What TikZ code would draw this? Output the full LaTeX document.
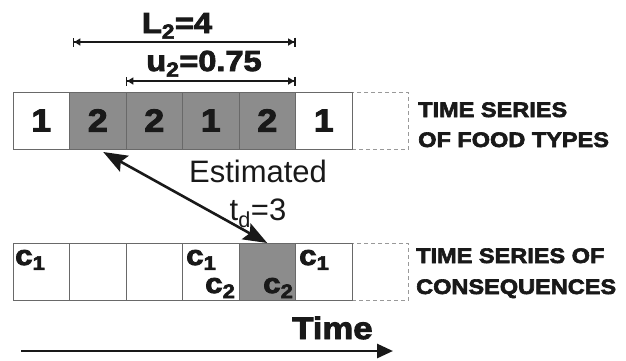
\documentclass[tikz,border=0pt]{standalone}
\usepackage{fontspec}
\setmainfont{Liberation Sans}
\newfontfamily\heavy{Liberation Sans Bold}[FakeBold=3,FakeStretch=1.12]
\usetikzlibrary{arrows.meta,calc}

\definecolor{cellfill}{RGB}{140,140,140}
\definecolor{cellline}{RGB}{105,105,105}
\definecolor{ink}{RGB}{25,25,25}

\begin{document}
\begin{tikzpicture}[x=1pt,y=-1pt,
  cell/.style={draw=cellline, line width=0.9pt, minimum width=56.5pt,
    minimum height=57pt, inner sep=0pt, outer sep=0pt, text=ink},
  shaded/.style={cell, fill=cellfill},
  opencell/.style={draw=gray!80, line width=0.9pt, dash pattern=on 4pt off 3pt,
    minimum width=56.5pt, minimum height=57pt, inner sep=0pt, outer sep=0pt},
  digit/.style={font=\heavy\fontsize{32}{32}\selectfont},
  clabel/.style={font=\heavy\fontsize{28}{28}\selectfont, text=ink, inner sep=0pt, anchor=base west},
  sidelabel/.style={font=\heavy\fontsize{21}{21}\selectfont, text=ink, inner sep=0pt, anchor=base west},
  dimtext/.style={font=\heavy\fontsize{29}{29}\selectfont, text=ink, inner sep=0pt, anchor=base},
  plain/.style={font=\fontsize{31}{31}\selectfont, text=ink, inner sep=0pt, anchor=base},
  dimline/.style={draw=ink, line width=1.3pt,
    {Bar[width=9pt,line width=1.3pt]Triangle[length=6pt,width=7pt]}-{Triangle[length=6pt,width=7pt]Bar[width=9pt,line width=1.3pt]}},
  delay/.style={draw=ink, line width=2.6pt,
    {Stealth[length=24pt,width=18pt,inset=4pt]}-{Stealth[length=24pt,width=18pt,inset=4pt]}},
]
\useasboundingbox (0,0) rectangle (626,360);

% row of food types
\node[opencell] (f7) at (380.25,120.5) {};
\node[cell,digit]   (f1) at (41.25,120.5)  {1};
\node[shaded,digit] (f2) at (97.75,120.5)  {2};
\node[shaded,digit] (f3) at (154.25,120.5) {2};
\node[shaded,digit] (f4) at (210.75,120.5) {1};
\node[shaded,digit] (f5) at (267.25,120.5) {2};
\node[cell,digit]   (f6) at (323.75,120.5) {1};

% row of consequences
\node[opencell] (k7) at (380.25,271.5) {};
\node[cell]   (k1) at (41.25,271.5)  {};
\node[cell]   (k2) at (97.75,271.5)  {};
\node[cell]   (k3) at (154.25,271.5) {};
\node[cell]   (k4) at (210.75,271.5) {};
\node[shaded] (k5) at (267.25,271.5) {};
\node[cell]   (k6) at (323.75,271.5) {};

\node[clabel] (c11) at (15,265)  {c\textsubscript{1}};
\node[clabel] (c41) at (186,265) {c\textsubscript{1}};
\node[clabel] (c42) at (205,293) {c\textsubscript{2}};
\node[clabel] (c52) at (263,293) {c\textsubscript{2}};
\node[clabel] (c61) at (299,265) {c\textsubscript{1}};

% side labels
\node[sidelabel] (sa) at (418,117) {TIME SERIES};
\node[sidelabel] (sb) at (418,147) {OF FOOD TYPES};
\node[sidelabel] (sc) at (416,263) {TIME SERIES OF};
\node[sidelabel] (sd) at (416,294) {CONSEQUENCES};

% window length and usage
\coordinate (La) at ($(f2.north west)+(3.5,-50)$);
\coordinate (Lb) at ($(f5.north east)+(0,-50)$);
\coordinate (ua) at ($(f3.north west)+(0,-11)$);
\coordinate (ub) at ($(f5.north east)+(0,-11)$);
\draw[dimline] (La) -- (Lb);
\draw[dimline] (ua) -- (ub);
\node[dimtext] (Ltext) at (177,33) {L\textsubscript{2}=4};
\node[dimtext] (utext) at (204,71) {u\textsubscript{2}=0.75};

% estimated delay
\draw[delay] ($(f2.south)+(5.5,3)$) -- (k5.north);
\node[plain] (est) at (258,182) {Estimated};
\node[plain] (td) at (258,220) {t\textsubscript{d}=3};

% time axis
\node[font=\heavy\fontsize{31}{31}\selectfont, text=ink, inner sep=0pt, anchor=base west] (tm) at (292,339) {Time};
\coordinate (t0) at (21,351);
\coordinate (t1) at (393,351);
\draw[draw=ink, line width=2.8pt, -{Triangle[length=16pt,width=14pt]}] (t0) -- (t1);
\end{tikzpicture}
\end{document}
